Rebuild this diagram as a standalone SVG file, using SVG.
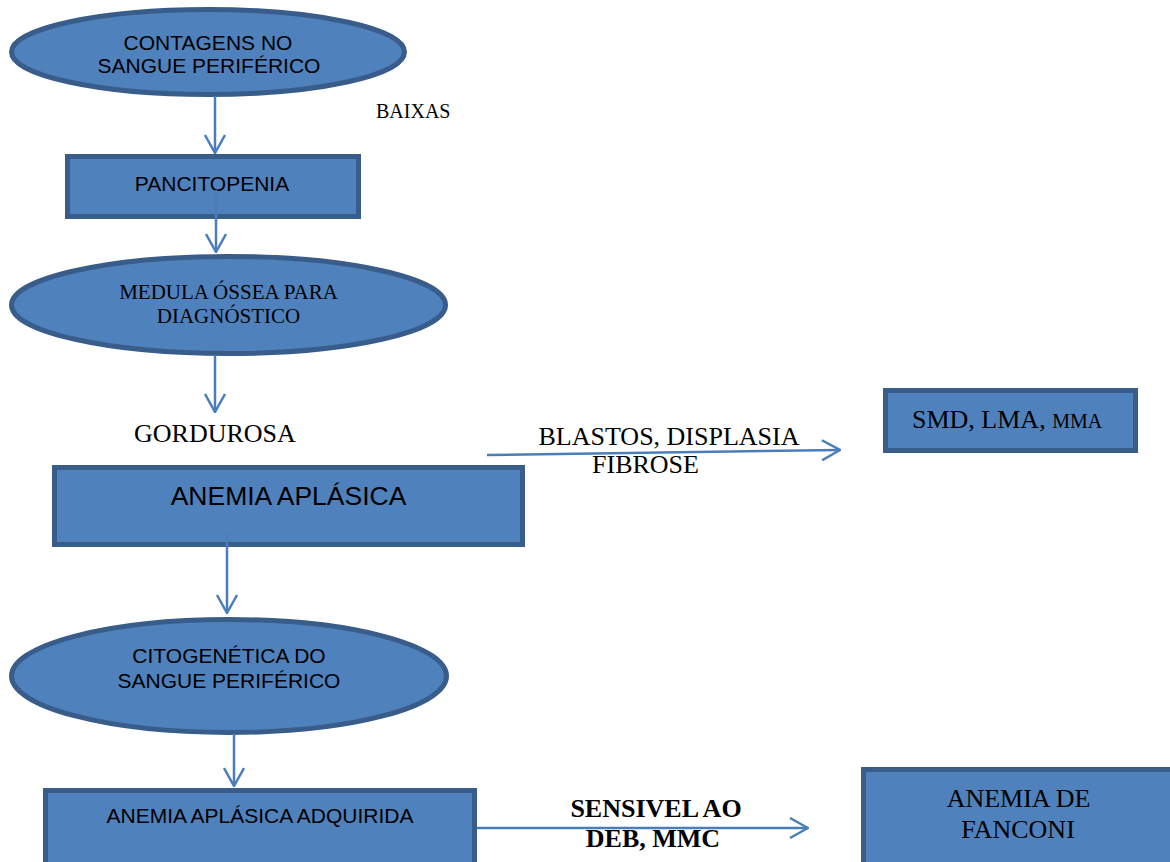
<svg xmlns="http://www.w3.org/2000/svg" width="1170" height="862" viewBox="0 0 1170 862">
<defs>
<style>
.node{fill:#4F81BD;stroke:#385D8A;stroke-width:5}
.edge{fill:none;stroke:#4A7EBB;stroke-width:2.5;marker-end:url(#arr)}
.sans{font-family:"Liberation Sans",Arial,sans-serif;fill:#000}
.serif{font-family:"Liberation Serif","Times New Roman",serif;fill:#000}
</style>
<marker id="arr" markerUnits="userSpaceOnUse" viewBox="0 0 20 22" refX="19" refY="11" markerWidth="20" markerHeight="22" orient="auto">
<path d="M1,1 L19,11 L1,21" fill="none" stroke="#4A7EBB" stroke-width="2.5"/>
</marker>
</defs>
<rect width="1170" height="862" fill="#fff"/>

<g id="n-contagens">
<ellipse class="node" cx="208" cy="52" rx="196.5" ry="42.5"/>
<text class="sans" font-size="21" text-anchor="middle"><tspan x="208" y="50">CONTAGENS NO</tspan><tspan x="209" y="73">SANGUE PERIFÉRICO</tspan></text>
</g>
<g id="n-baixas">
<text class="serif" font-size="20" x="376" y="118">BAIXAS</text>
</g>
<g id="n-pancitopenia">
<rect class="node" x="67.5" y="156.5" width="291" height="60"/>
<text class="sans" font-size="21" text-anchor="middle" x="212" y="191">PANCITOPENIA</text>
</g>
<g id="n-medula">
<ellipse class="node" cx="228.5" cy="305" rx="217" ry="48.5"/>
<text class="serif" font-size="21" text-anchor="middle"><tspan x="228.5" y="299">MEDULA ÓSSEA PARA</tspan><tspan x="228.5" y="323">DIAGNÓSTICO</tspan></text>
</g>
<g id="n-gordurosa">
<text class="serif" font-size="26" x="134" y="442">GORDUROSA</text>
</g>
<g id="n-anemia-aplasica">
<rect class="node" x="54.5" y="467.5" width="468" height="77"/>
<text class="sans" font-size="26.5" text-anchor="middle" x="288.5" y="505">ANEMIA APLÁSICA</text>
</g>
<g id="n-smd">
<rect class="node" x="885.5" y="390.5" width="250" height="60"/>
<text class="serif" font-size="26" x="912" y="428">SMD, LMA, <tspan font-size="20">MMA</tspan></text>
</g>
<g id="n-citogenetica">
<ellipse class="node" cx="229" cy="676" rx="217.5" ry="56.5"/>
<text class="sans" font-size="21" text-anchor="middle"><tspan x="229" y="663">CITOGENÉTICA DO</tspan><tspan x="229" y="688">SANGUE PERIFÉRICO</tspan></text>
</g>
<g id="n-adquirida">
<rect class="node" x="45.5" y="790.5" width="429" height="100"/>
<text class="sans" font-size="21" text-anchor="middle" x="260" y="823">ANEMIA APLÁSICA ADQUIRIDA</text>
</g>
<g id="n-fanconi">
<rect class="node" x="863.5" y="769.5" width="320" height="120"/>
<text class="serif" font-size="26" text-anchor="middle"><tspan x="1018.5" y="807">ANEMIA DE</tspan><tspan x="1018" y="838">FANCONI</tspan></text>
</g>

<g id="connectors">
<line class="edge" x1="215" y1="96" x2="215" y2="153"/>
<line class="edge" x1="216" y1="190" x2="216" y2="252"/>
<line class="edge" x1="215" y1="356" x2="215" y2="412"/>
<line class="edge" x1="227" y1="533" x2="227" y2="613"/>
<line class="edge" x1="234" y1="734" x2="234" y2="786"/>
<line class="edge" x1="487" y1="455" x2="840" y2="450"/>
<line class="edge" x1="477" y1="828" x2="808" y2="828"/>
</g>
<g id="edge-labels">
<text class="serif" font-size="26" text-anchor="middle"><tspan x="669" y="445">BLASTOS, DISPLASIA</tspan><tspan x="645.5" y="473">FIBROSE</tspan></text>
<text class="serif" font-size="26" font-weight="bold" text-anchor="middle"><tspan x="656" y="817">SENSIVEL AO</tspan><tspan x="653" y="847">DEB, MMC</tspan></text>
</g>
</svg>
